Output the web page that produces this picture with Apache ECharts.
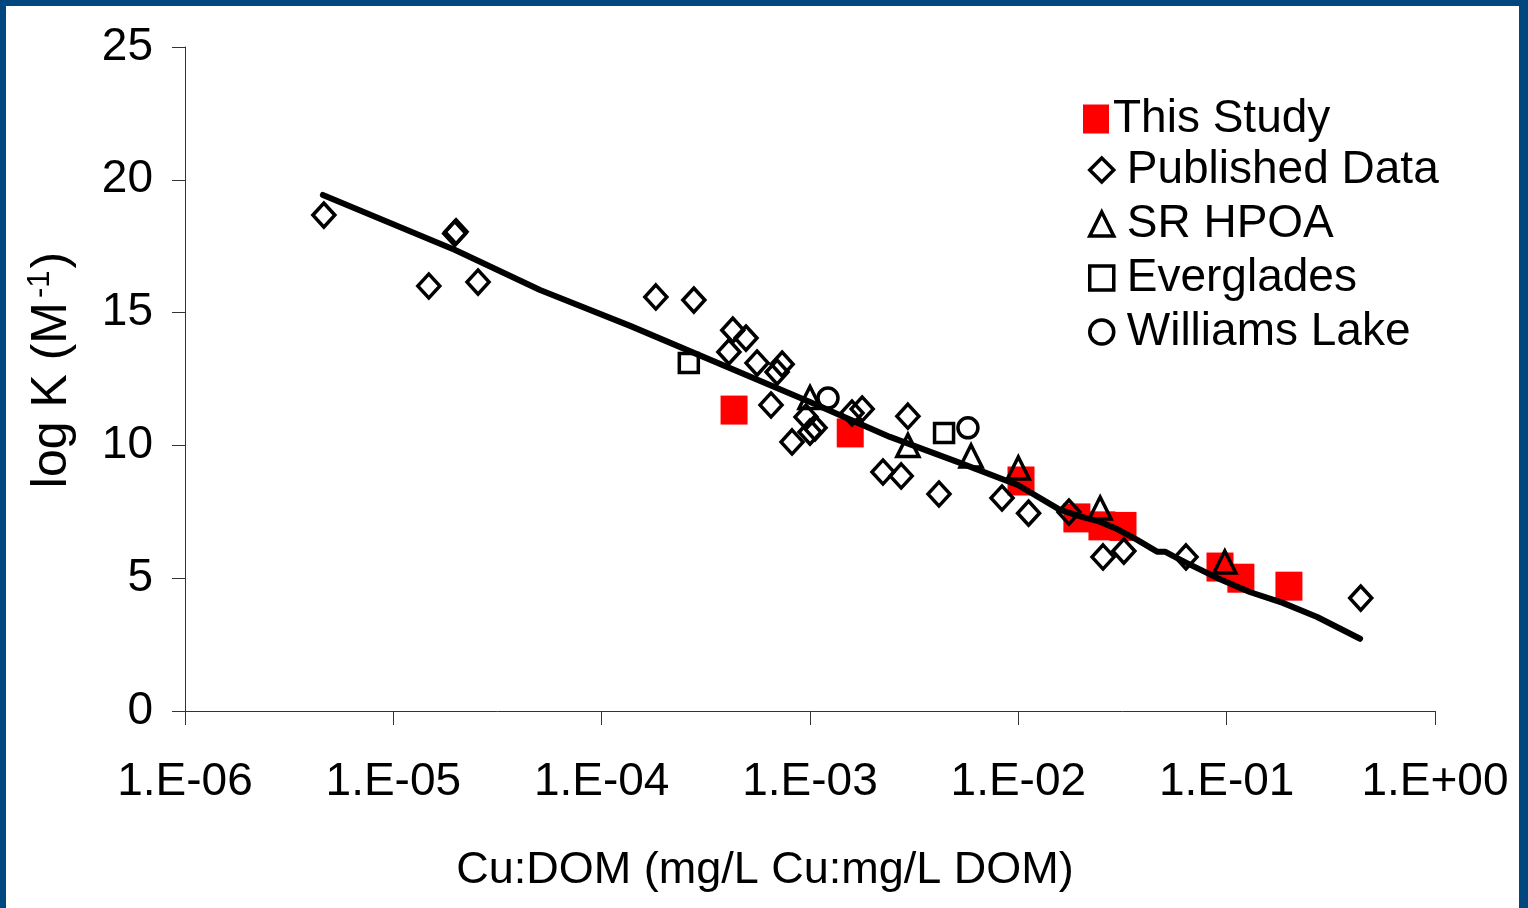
<!DOCTYPE html>
<html>
<head>
<meta charset="utf-8">
<script src="https://cdn.jsdelivr.net/npm/echarts@6/dist/echarts.min.js"></script>
<style>
  html, body { margin: 0; padding: 0; background: #fff; }
  #chart { position: absolute; left: 0; top: 0; width: 1528px; height: 908px; }
  #frame { position: absolute; left: 0; top: 0; width: 1528px; height: 908px; box-sizing: border-box;
           border-top: 6px solid #00467F; border-left: 6px solid #00467F; border-right: 9px solid #00467F;
           pointer-events: none; }
</style>
</head>
<body>
<div id="chart"></div>
<div id="frame"></div>
<script>
// ---- data ----
const thisStudyX = [4.32e-4, 1.56e-3, 1.03e-2, 1.91e-2, 2.52e-2, 3.18e-2, 9.29e-2, 0.117, 0.199];
const thisStudyY = [11.33, 10.47, 8.66, 7.27, 6.97, 6.95, 5.42, 5.0, 4.7];

const publishedX = [4.64e-6, 1.48e-5, 1.97e-5, 2.0e-5, 2.55e-5, 1.82e-4, 2.77e-4, 4.26e-4, 4.93e-4, 4.08e-4,
                    5.57e-4, 7.35e-4, 6.95e-4, 6.5e-4, 8.2e-4, 9.57e-4, 1.057e-3, 1.0e-3, 1.59e-3, 1.78e-3,
                    2.95e-3, 2.24e-3, 2.74e-3, 4.16e-3, 8.35e-3, 1.12e-2, 1.75e-2, 2.55e-2, 3.21e-2, 6.38e-2, 0.44];
const publishedY = [18.67, 16.0, 17.98, 18.04, 16.15, 15.59, 15.47, 14.34, 14.04, 13.52,
                    13.1, 13.06, 12.76, 11.52, 10.13, 11.07, 10.66, 10.5, 11.22, 11.37,
                    11.1, 9.0, 8.85, 8.17, 8.02, 7.45, 7.49, 5.8, 6.02, 5.8, 4.25];

const srHpoaX = [1.0e-3, 2.95e-3, 5.93e-3, 1.0e-2, 2.47e-2, 9.8e-2];
const srHpoaY = [11.8, 10.0, 9.6, 9.15, 7.64, 5.61];

const evergladesX = [2.62e-4, 4.4e-3];
const evergladesY = [13.1, 10.47];

const williamsX = [1.22e-3, 5.73e-3];
const williamsY = [11.78, 10.66];

const fitX = [4.59e-6, 1.98e-5, 5.06e-5, 1.37e-4, 1.0e-3, 2.42e-3, 5.25e-3, 1.0e-2, 1.585e-2, 2.04e-2,
              2.41e-2, 2.98e-2, 3.72e-2, 4.63e-2, 5.06e-2, 5.52e-2, 6.45e-2, 9.0e-2, 0.129, 0.186, 0.272, 0.437];
const fitY = [19.43, 17.36, 15.85, 14.5, 11.63, 10.32, 9.34, 8.5, 7.57, 7.30,
              7.15, 6.85, 6.44, 6.0, 6.0, 5.84, 5.57, 5.01, 4.48, 4.07, 3.54, 2.72];

const xTickLabels = ['1.E-06', '1.E-05', '1.E-04', '1.E-03', '1.E-02', '1.E-01', '1.E+00'];
const yTickLabels = ['0', '5', '10', '15', '20', '25'];

const seriesNames = ['This Study', 'Published Data', 'SR HPOA', 'Everglades', 'Williams Lake'];

// ---- chart ----
const FONT = "'Liberation Sans', Arial, sans-serif";
const zip = (xs, ys) => xs.map((x, i) => [x, ys[i]]);
const hollow = { color: 'rgba(0,0,0,0)', borderColor: '#000', borderWidth: 3.5, opacity: 1 };

const chart = echarts.init(document.getElementById('chart'), null, { renderer: 'canvas' });

chart.setOption({
  backgroundColor: '#fff',
  animation: false,
  grid: { left: 185, right: 93, top: 47, bottom: 197, containLabel: false },
  xAxis: {
    type: 'log', logBase: 10, min: 1e-6, max: 1, splitNumber: 6,
    name: 'Cu:DOM (mg/L Cu:mg/L DOM)', nameLocation: 'middle', nameGap: 137,
    nameTextStyle: { fontFamily: FONT, fontSize: 45, color: '#000', padding: [0, 90, 0, 0] },
    axisLine: { show: true, lineStyle: { color: '#333', width: 1 } },
    axisTick: { show: true, inside: false, length: 14, lineStyle: { color: '#333', width: 1 } },
    minorTick: { show: false },
    splitLine: { show: false },
    axisLabel: {
      fontFamily: FONT, fontSize: 46, color: '#000', margin: 48,
      formatter: v => xTickLabels[Math.round(Math.log10(v)) + 6]
    }
  },
  yAxis: {
    type: 'value', min: 0, max: 25, interval: 5,
    name: 'log K (M{sup|-1})', nameLocation: 'middle', nameGap: 105,
    nameTextStyle: {
      fontFamily: FONT, fontSize: 50, color: '#000', padding: [0, 0, 0, 18],
      rich: { sup: { fontFamily: FONT, fontSize: 31, color: '#000', verticalAlign: 'top', padding: [0, 2, 24, 4] } }
    },
    axisLine: { show: true, lineStyle: { color: '#333', width: 1 } },
    axisTick: { show: true, inside: false, length: 13, lineStyle: { color: '#333', width: 1 } },
    splitLine: { show: false },
    axisLabel: {
      fontFamily: FONT, fontSize: 46, color: '#000', margin: 32,
      formatter: v => yTickLabels[Math.round(v / 5)]
    }
  },
  legend: [
    {
      orient: 'vertical', left: 1083, top: 96, itemGap: 8, padding: 0,
      itemWidth: 26, itemHeight: 29,
      textStyle: { fontFamily: FONT, fontSize: 46, color: '#000', lineHeight: 44, padding: [0, 0, 0, -1] },
      data: [{ name: seriesNames[0], icon: 'rect', itemStyle: { color: '#FF0000', borderWidth: 0, opacity: 1 } }],
      selectedMode: false
    },
    {
      orient: 'vertical', left: 1088, top: 147, itemGap: 8, padding: 0,
      itemWidth: 24, itemHeight: 24,
      textStyle: { fontFamily: FONT, fontSize: 46, color: '#000', lineHeight: 44, padding: [0, 0, 0, 8] },
      data: [
        { name: seriesNames[1], icon: 'diamond', itemStyle: hollow },
        { name: seriesNames[2], icon: 'triangle', itemStyle: hollow },
        { name: seriesNames[3], icon: 'rect', itemStyle: hollow },
        { name: seriesNames[4], icon: 'circle', itemStyle: hollow }
      ],
      selectedMode: false
    }
  ],
  series: [
    {
      name: seriesNames[0], type: 'scatter', symbol: 'rect', symbolSize: [27, 29],
      itemStyle: { color: '#FF0000', opacity: 1 }, data: zip(thisStudyX, thisStudyY), z: 2
    },
    {
      name: seriesNames[1], type: 'scatter', symbol: 'diamond', symbolSize: [22, 24],
      itemStyle: hollow, data: zip(publishedX, publishedY), z: 3
    },
    {
      name: seriesNames[2], type: 'scatter', symbol: 'triangle', symbolSize: [22, 22],
      itemStyle: hollow, data: zip(srHpoaX, srHpoaY), z: 3
    },
    {
      name: seriesNames[3], type: 'scatter', symbol: 'rect', symbolSize: [19, 19],
      itemStyle: hollow, data: zip(evergladesX, evergladesY), z: 3
    },
    {
      name: seriesNames[4], type: 'scatter', symbol: 'circle', symbolSize: 20,
      itemStyle: hollow, data: zip(williamsX, williamsY), z: 3
    },
    {
      name: 'Fit', type: 'line', showSymbol: false, symbol: 'none',
      lineStyle: { color: '#000', width: 6, cap: 'round', join: 'round' },
      data: zip(fitX, fitY), z: 4, silent: true
    }
  ]
});
</script>
</body>
</html>
